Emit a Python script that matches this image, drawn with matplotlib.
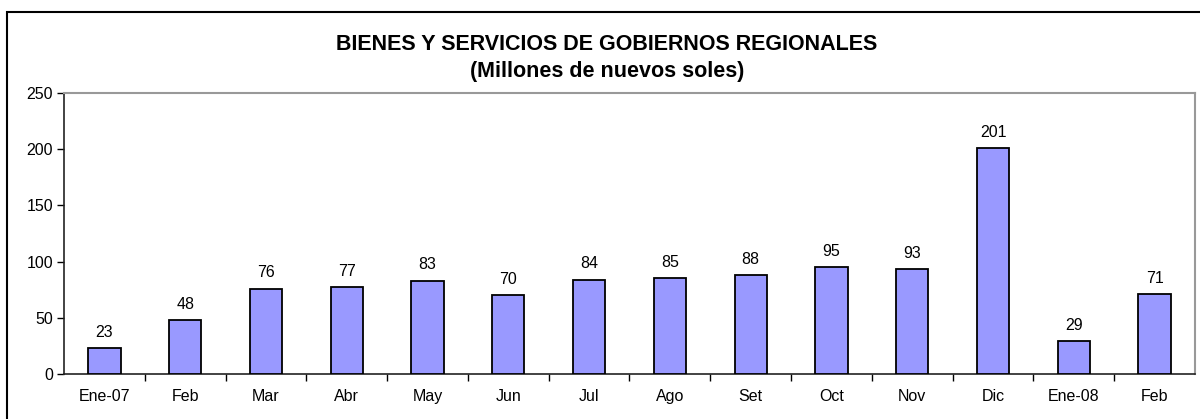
import matplotlib.pyplot as plt
import matplotlib.patches as patches
import numpy as np

# --- datos ---
meses = ['Ene-07', 'Feb', 'Mar', 'Abr', 'May', 'Jun', 'Jul', 'Ago', 'Set',
         'Oct', 'Nov', 'Dic', 'Ene-08', 'Feb']
valores = [23, 48, 76, 77, 83, 70, 84, 85, 88, 95, 93, 201, 29, 71]

plt.rcParams['font.family'] = ['Liberation Sans', 'DejaVu Sans']

fig = plt.figure(figsize=(12, 4.19), dpi=100)
ax = fig.add_axes([64 / 1200, 45 / 419, (1195 - 64) / 1200, (374 - 93) / 419])

x = np.arange(len(meses))
ax.bar(x, valores, width=0.4, color='#9999FF', edgecolor='black', linewidth=1.3, zorder=3)

for xi, v in zip(x, valores):
    ax.annotate(str(v), (xi, v), xytext=(0, 6), textcoords='offset points',
                ha='center', va='bottom', fontsize=11.5)

ax.set_xlim(-0.5, len(meses) - 0.5)
ax.set_ylim(0, 250)
ax.set_yticks(range(0, 251, 50))
ax.tick_params(axis='y', labelsize=11.5, length=5, width=1, direction='out', pad=3)

# etiquetas centradas, ticks entre categorías
ax.set_xticks(x)
ax.set_xticklabels(meses, fontsize=11.5)
ax.tick_params(axis='x', length=0, pad=11)
ax.set_xticks(np.arange(0.5, len(meses) - 0.5, 1), minor=True)
ax.tick_params(axis='x', which='minor', length=5, width=1, direction='out')

for s in ['left', 'bottom']:
    ax.spines[s].set_color('#222222')
    ax.spines[s].set_linewidth(1.2)
for s in ['top', 'right']:
    ax.spines[s].set_color('#999999')
    ax.spines[s].set_linewidth(1.5)

fig.text(607 / 1200, 1 - 44 / 419, 'BIENES Y SERVICIOS DE GOBIERNOS REGIONALES',
         ha='center', va='center', fontsize=15.5, fontweight='bold')
fig.text(607 / 1200, 1 - 71 / 419, '(Millones de nuevos soles)',
         ha='center', va='center', fontsize=15.5, fontweight='bold')

# marco del gráfico
marco = patches.Rectangle((7 / 1200, -0.2), 1.2, 1.2 - 12 / 419, transform=fig.transFigure,
                          fill=False, edgecolor='black', linewidth=1.5, clip_on=False)
fig.patches.append(marco)

fig.savefig('out.png', dpi=100)
